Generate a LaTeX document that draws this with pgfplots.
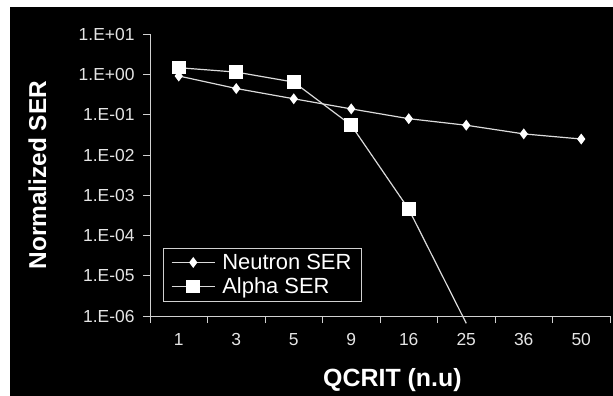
\documentclass[border=0pt]{standalone}
\usepackage{pgfplots}
\pgfplotsset{compat=1.18}
\usepackage{fontspec}
\setmainfont{Liberation Sans}
\definecolor{axgray}{gray}{0.82}
\definecolor{lngray}{gray}{0.86}
\begin{document}
\begin{tikzpicture}
\fill[white] (0,0) rectangle (613bp,396bp);
\fill[black] (10bp,0) rectangle (613bp,389bp);
\begin{axis}[
  at={(150bp,80bp)}, anchor=south west,
  scale only axis, width=460bp, height=281.7bp,
  ymode=log, ymin=1e-6, ymax=10,
  xmin=-0.5, xmax=7.5,
  clip=false,
  axis x line*=bottom, axis y line*=left,
  axis line style={axgray, line width=0.9bp},
  xtick={-0.5,0.5,...,7.5},
  x tick label as interval,
  xticklabels={1,3,5,9,16,25,36,50},
  ytick={1e-6,1e-5,1e-4,1e-3,1e-2,1e-1,1,10},
  yticklabels={1.E-06,1.E-05,1.E-04,1.E-03,1.E-02,1.E-01,1.E+00,1.E+01},
  yminorticks=false,
  tick align=outside,
  major tick length=7bp,
  tick style={axgray, line width=0.9bp},
  ticklabel style={font=\fontsize{17.5}{20}\selectfont, text=white!90!black},
  yticklabel style={xshift=-5bp},
  xticklabel style={yshift=-7bp},
  xlabel={QCRIT (n.u)},
  ylabel={Normalized SER},
  every axis x label/.style={at={(axis description cs:0.527,-0.228)}, anchor=center, font=\bfseries\fontsize{25}{30}\selectfont, text=white},
  every axis y label/.style={at={(axis description cs:-0.245,0.5)}, anchor=center, rotate=90, font=\bfseries\fontsize{24.5}{28}\selectfont, text=white},
  legend style={at={(axis description cs:0.0276,0.051)}, anchor=south west, draw=axgray, line width=0.9bp, fill=black, text=white, font=\fontsize{22}{26}\selectfont, inner xsep=8bp, inner ysep=4bp, row sep=3bp, column sep=5bp},
  legend cell align=left,
  legend image code/.code={\draw[#1, mark=none] (0bp,0bp) -- (43bp,0bp); \draw[#1] plot coordinates {(21.5bp,0bp)};},
]
\addplot[lngray, line width=1.2bp, mark=diamond*, mark size=4.5bp, mark options={fill=white, draw=white}]
  coordinates {(0,0.92) (1,0.45) (2,0.25) (3,0.14) (4,0.08) (5,0.055) (6,0.0335) (7,0.025)};
\addlegendentry{Neutron SER}
\addplot[lngray, line width=1.2bp, mark=square*, mark size=6.2bp, mark options={fill=white, draw=white}, mark indices={1,2,3,4,5}]
  coordinates {(0,1.48) (1,1.15) (2,0.65) (3,0.055) (4,0.00045) (5,6.6e-7)};
\addlegendentry{Alpha SER}
\end{axis}
\pgfresetboundingbox
\useasboundingbox (0,0) rectangle (613bp,396bp);
\end{tikzpicture}
\end{document}
